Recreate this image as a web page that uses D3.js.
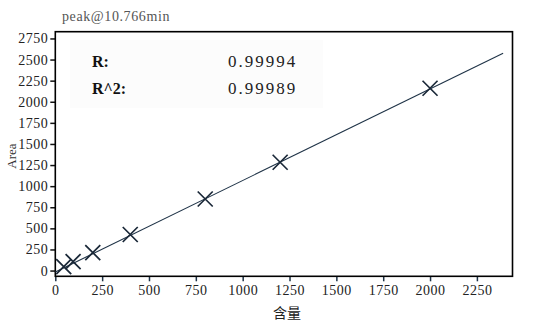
<!DOCTYPE html>
<html>
<head>
<meta charset="utf-8">
<script src="https://cdn.jsdelivr.net/npm/d3@7"></script>
<style>
  body { margin: 0; background: #fff; }
  svg text { font-family: "Liberation Serif", serif; }
</style>
</head>
<body>
<svg id="chart" width="541" height="334"></svg>
<script>
// calibration points
var amounts = [45, 95, 200, 400, 800, 1200, 2000];
var areas = [47, 107, 213, 427, 848, 1283, 2160];
// fitted line, two ends
var fitX = [0, 2390];
var fitY = [-18, 2575];
var xTicks = [0, 250, 500, 750, 1000, 1250, 1500, 1750, 2000, 2250];
var yTicks = [0, 250, 500, 750, 1000, 1250, 1500, 1750, 2000, 2250, 2500, 2750];
var statNames = ["R:", "R^2:"];
var statValues = ["0.99994", "0.99989"];

var svg = d3.select("#chart");

// plot box (not "top": that name is taken by window.top)
var boxL = 55.3, boxR = 512.5, boxT = 31.7, boxB = 276.3;

var x = d3.scaleLinear().domain([0, 2440]).range([boxL, boxR]);
var y = d3.scaleLinear().domain([-68, 2830]).range([boxB, boxT]);

// faint panel behind the stats
svg.append("rect")
  .attr("x", 70).attr("y", 40)
  .attr("width", 253).attr("height", 68)
  .attr("fill", "#fcfcfc");

// axes
var xAxis = svg.append("g")
  .attr("transform", "translate(0," + boxB + ")")
  .call(d3.axisBottom(x).tickValues(xTicks).tickSize(5).tickPadding(4).tickFormat(d3.format("d")));
xAxis.select(".domain").remove();
xAxis.selectAll("line").attr("stroke", "#1f3347").attr("stroke-width", 1.5);
xAxis.selectAll("text").attr("font-size", 14).attr("fill", "#222").attr("letter-spacing", "0.5px");

var yAxis = svg.append("g")
  .attr("transform", "translate(" + boxL + ",0)")
  .call(d3.axisLeft(y).tickValues(yTicks).tickSize(5).tickPadding(2).tickFormat(d3.format("d")));
yAxis.select(".domain").remove();
yAxis.selectAll("line").attr("stroke", "#111").attr("stroke-width", 1.5);
yAxis.selectAll("text").attr("font-size", 14).attr("fill", "#222").attr("letter-spacing", "0.5px");

// frame
svg.append("rect")
  .attr("x", boxL).attr("y", boxT)
  .attr("width", boxR - boxL).attr("height", boxB - boxT)
  .attr("fill", "none")
  .attr("stroke", "#000")
  .attr("stroke-width", 1.6);

// fit line
svg.append("line")
  .attr("x1", x(fitX[0])).attr("y1", y(fitY[0]))
  .attr("x2", x(fitX[1])).attr("y2", y(fitY[1]))
  .attr("stroke", "#1f3347")
  .attr("stroke-width", 1.1);

// cross markers
var s = 7.5;
var pts = svg.append("g").selectAll("g")
  .data(amounts)
  .enter().append("g")
  .attr("transform", function(d, i) { return "translate(" + x(d) + "," + y(areas[i]) + ")"; });
pts.append("path")
  .attr("d", "M" + (-s) + "," + (-s) + "L" + s + "," + s + "M" + (-s) + "," + s + "L" + s + "," + (-s))
  .attr("stroke", "#1a2838")
  .attr("stroke-width", 1.7)
  .attr("fill", "none");

// stats text
statNames.forEach(function(n, i) {
  svg.append("text")
    .attr("x", 92).attr("y", 67 + i * 27)
    .attr("font-size", 16).attr("font-weight", "bold")
    .attr("fill", "#111")
    .text(n);
  svg.append("text")
    .attr("x", 228).attr("y", 67 + i * 27)
    .attr("font-size", 17).attr("fill", "#222")
    .attr("letter-spacing", "2px")
    .text(statValues[i]);
});

// title and axis labels
svg.append("text")
  .attr("x", 62).attr("y", 21)
  .attr("font-size", 14).attr("fill", "#555")
  .attr("letter-spacing", "0.6px")
  .text("peak@10.766min");

svg.append("text")
  .attr("transform", "translate(16,156) rotate(-90)")
  .attr("text-anchor", "middle")
  .attr("font-size", 13).attr("fill", "#333")
  .text("Area");

svg.append("text")
  .attr("x", 287).attr("y", 318)
  .attr("text-anchor", "middle")
  .style("font-family", "'Noto Sans CJK SC', sans-serif")
  .attr("font-size", 14).attr("fill", "#222")
  .text("含量");
</script>
</body>
</html>
